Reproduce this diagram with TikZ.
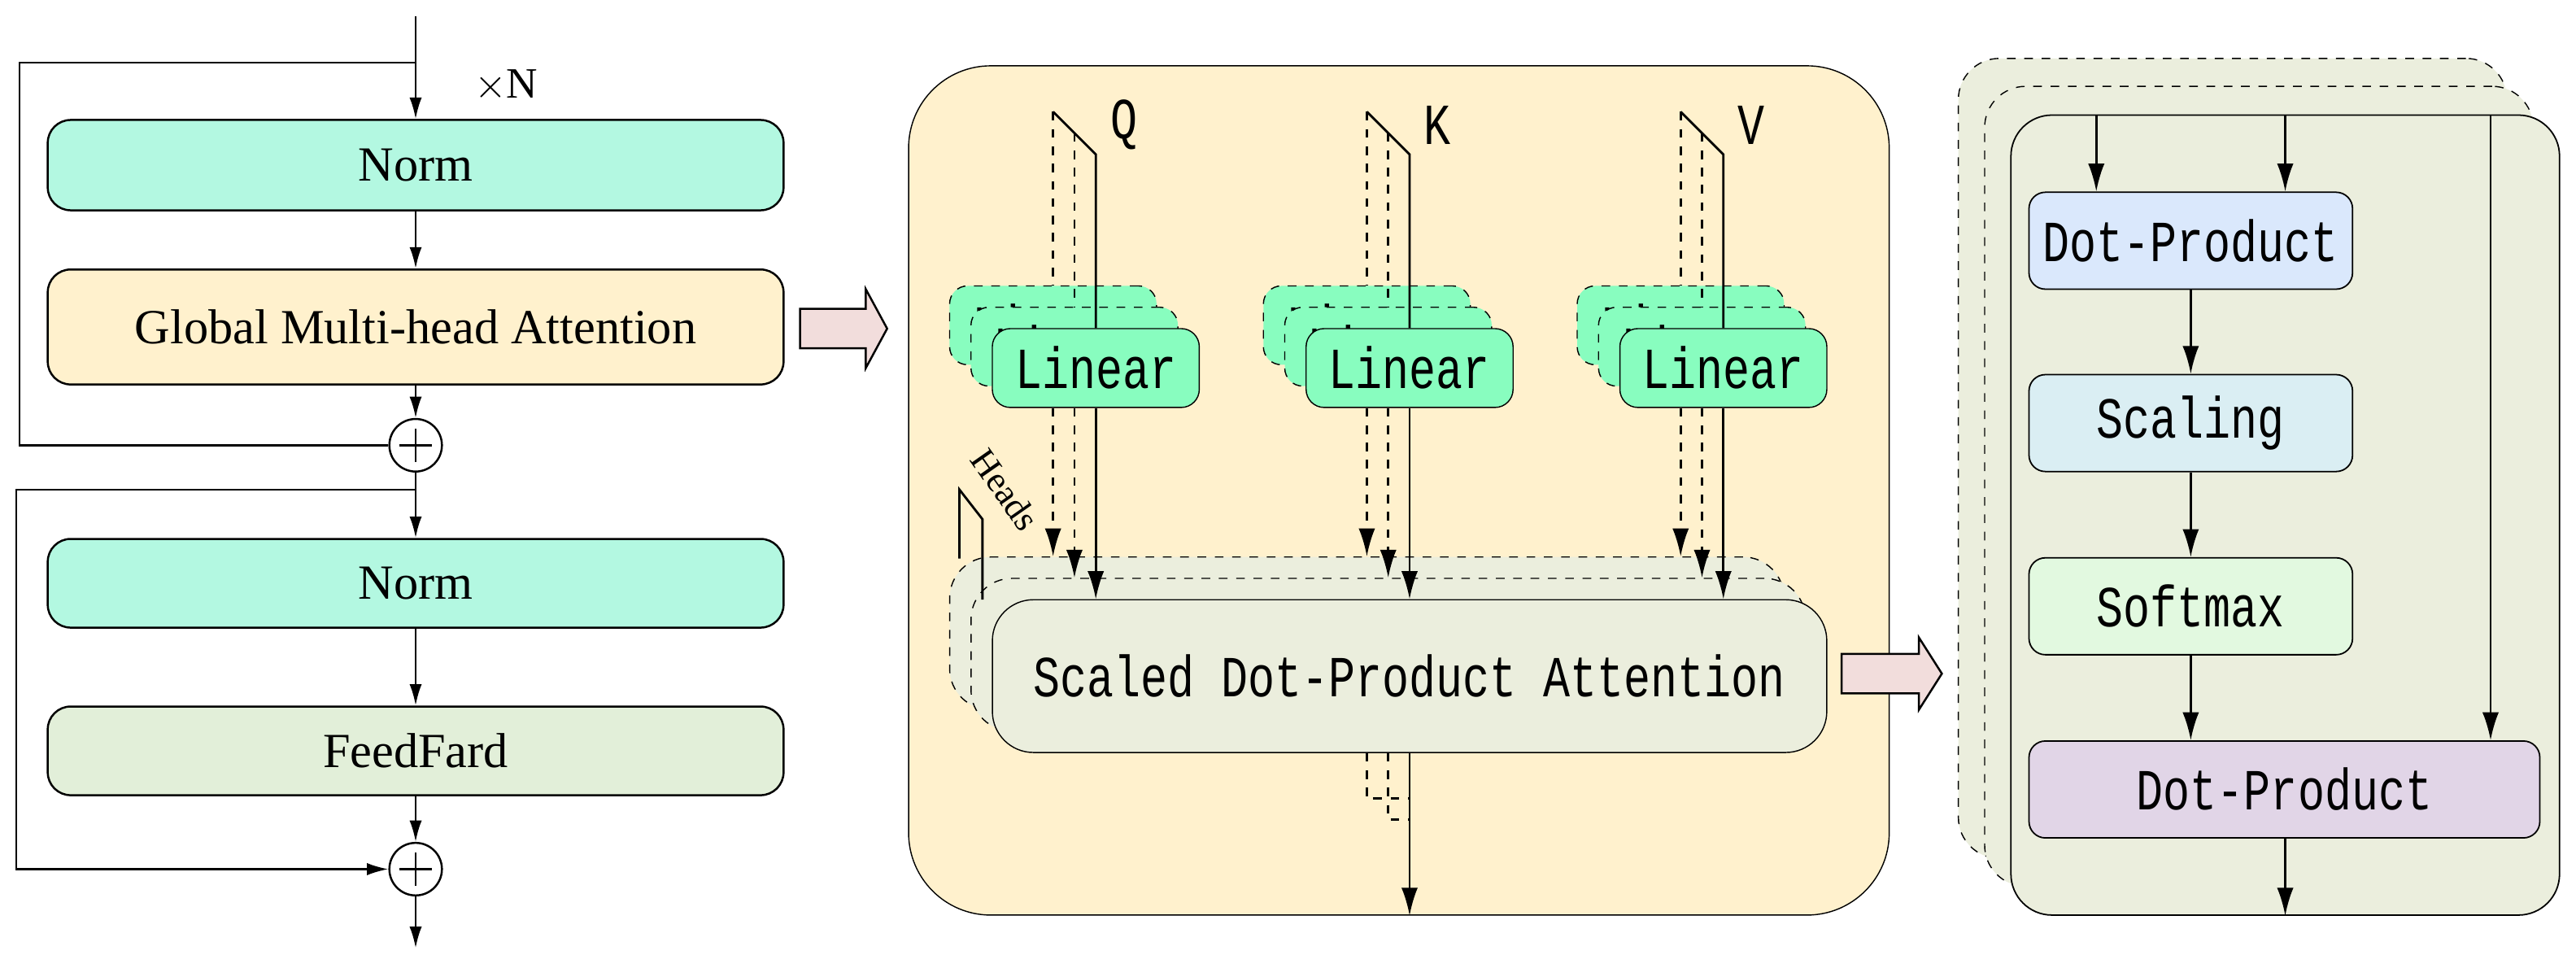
\documentclass[tikz,border=0pt]{standalone}
\usepackage{graphicx}
\usepackage{fontspec}
\setmainfont{Liberation Serif}
\newfontfamily\tallfont{Liberation Mono}
\usetikzlibrary{arrows.meta,positioning,calc}

\definecolor{normcol}{HTML}{B3F8E1}
\definecolor{attcol}{HTML}{FFF1CD}
\definecolor{ffcol}{HTML}{E2EFD9}
\definecolor{pinkcol}{HTML}{F2DDDC}
\definecolor{lincol}{HTML}{88FDBF}
\definecolor{sdpcol}{HTML}{EBEEDD}
\definecolor{dotcol}{HTML}{DAE8FC}
\definecolor{scalecol}{HTML}{DAEEF3}
\definecolor{softcol}{HTML}{E2F9E0}
\definecolor{outcol}{HTML}{E1D5E7}

\newcommand{\monotext}[1]{\scalebox{1}[1.3]{\tallfont #1}}

\begin{document}
\begin{tikzpicture}[
            x=0.02cm, y=-0.02cm,
            box/.style={rectangle, draw, line width=0.7pt, rounded corners=0.28cm, minimum width=8.96cm, minimum height=1.1cm, font=\fontsize{17}{20}\selectfont},
            plus/.style={circle, draw, line width=0.7pt, fill=white, minimum size=0.64cm, inner sep=0pt,
                path picture={\draw[line width=0.7pt] ([xshift=-0.2cm]path picture bounding box.center) -- ([xshift=0.2cm]path picture bounding box.center);
                              \draw[line width=0.7pt] ([yshift=-0.2cm]path picture bounding box.center) -- ([yshift=0.2cm]path picture bounding box.center);}},
            linbox/.style={rectangle, draw, fill=lincol, rounded corners=0.22cm, minimum width=2.52cm, minimum height=0.96cm, font=\fontsize{15.5}{18}\selectfont},
            sdpbox/.style={rectangle, draw, fill=sdpcol, rounded corners=0.5cm, minimum width=10.16cm, minimum height=1.86cm, font=\fontsize{15.5}{18}\selectfont},
            headbox/.style={rectangle, draw, fill=sdpcol, rounded corners=0.5cm, minimum width=6.68cm, minimum height=9.74cm},
            stepbox/.style={rectangle, draw, line width=0.5pt, rounded corners=0.2cm, minimum width=3.94cm, minimum height=1.18cm, font=\fontsize{15.5}{18}\selectfont},
            back/.style={dashed, line width=0.4pt},
            hollow/.style={draw, line width=0.7pt, fill=pinkcol},
            arr/.style={-{Latex[length=0.26cm, width=0.15cm]}, line width=0.7pt},
            bigarr/.style={-{Latex[length=0.34cm, width=0.2cm]}, line width=0.8pt}
        ]
            \useasboundingbox (0,0) rectangle (1568,589);

            % encoder layer
            \coordinate (in) at (253,10);
            \coordinate (skip1) at (253,38);
            \coordinate (skip2) at (253,298);
            \coordinate (out) at (253,577);
            \node[box, fill=normcol] (norm1) at (253,100.5) {Norm};
            \node[box, fill=attcol, minimum height=1.4cm] (gma) at (253,199) {Global Multi-head Attention};
            \node[plus] (add1) at (253,271) {};
            \node[box, fill=normcol, minimum height=1.08cm] (norm2) at (253,355) {Norm};
            \node[box, fill=ffcol, minimum height=1.08cm] (ff) at (253,457) {FeedFard};
            \node[plus] (add2) at (253,529) {};
            \node[font=\fontsize{15}{17}\selectfont] (times) at (308,52) {$\times$N};

            \draw[arr] (in) -- (norm1.north);
            \draw[line width=0.7pt] (skip1) -- ++(-241,0) |- (add1.west);
            \draw[arr] (norm1) -- (gma);
            \draw[arr] (gma) -- (add1);
            \draw[arr] (add1) -- (norm2);
            \draw[arr] (skip2) -- ++(-243,0) |- (add2.west);
            \draw[arr] (norm2) -- (ff);
            \draw[arr] (ff) -- (add2);
            \draw[arr] (add2) -- (out);

            \draw[hollow] (487,188) -- (527,188) -- (527,176) -- (540,200) -- (527,224) -- (527,212) -- (487,212) -- cycle;

            % multi-head attention
            \node[draw, fill=attcol, rounded corners=1cm, minimum width=11.94cm, minimum height=10.34cm] (mha) at (851.5,298.5) {};
            \node[sdpbox, back] (sdpa3) at (832,385.5) {};
            \node[sdpbox, back] (sdpa2) at (845,398.5) {};
            \node[sdpbox] (sdpa1) at (858,411.5) {\monotext{Scaled Dot-Product Attention}};

            \foreach \n/\lab [count=\i from 0] in {q/Q,k/K,v/V} {
                \pgfmathsetmacro{\xx}{641+191*\i}
                \node[linbox, back] (\n3) at (\xx,198) {\monotext{Linear}};
                \node[linbox, back] (\n2) at (\xx+13,211) {\monotext{Linear}};
                \node[linbox] (\n1) at (\xx+26,224) {\monotext{Linear}};
                \node[font=\fontsize{15.5}{18}\selectfont] (\n lab) at (\xx+43,76) {\monotext{\lab}};
                \coordinate (\n top) at (\xx,68);
                \coordinate (\n mid) at (\xx+13,81);
                \coordinate (\n bend) at (\xx+26,94);
                \draw[line width=0.8pt] (\n top) -- (\n bend) -- (\n1.north);
                \draw[dashed, line width=0.8pt] (\n top) -- (\n3.north);
                \draw[dashed, line width=0.8pt] (\n mid) -- (\n2.north);
                \draw[bigarr, dashed] (\n3 |- \n1.south) -- (\n3 |- sdpa3.north);
                \draw[bigarr, dashed] (\n2 |- \n1.south) -- (\n2 |- sdpa2.north);
                \draw[bigarr] (\n1.south) -- (\n1 |- sdpa1.north);
            }

            \draw[line width=0.8pt] (584,340) -- (584,298) -- (598,316) -- (598,365);
            \node[rotate=-55, font=\fontsize{12.5}{14}\selectfont] (heads) at (612,298) {Heads};

            \coordinate (merge3) at (832,486);
            \coordinate (merge2) at (845,499);
            \draw[dashed, line width=0.8pt] (sdpa1.south -| sdpa3) -- (merge3) -- (merge3 -| sdpa1);
            \draw[dashed, line width=0.8pt] (sdpa1.south -| sdpa2) -- (merge2) -- (merge2 -| sdpa1);
            \draw[bigarr] (sdpa1.south) -- (sdpa1 |- mha.south);

            \draw[hollow] (1121,398) -- (1168,398) -- (1168,388) -- (1182,410) -- (1168,432) -- (1168,422) -- (1121,422) -- cycle;

            % scaled dot-product attention
            \node[headbox, back] (head3) at (1359,279) {};
            \node[headbox, back] (head2) at (1375,296) {};
            \node[headbox, line width=0.5pt] (head1) at (1391,313.5) {};
            \node[stepbox, fill=dotcol] (dot1) at (1333.5,146.5) {\monotext{Dot-Product}};
            \node[stepbox, fill=scalecol] (scale) at (1333.5,257.5) {\monotext{Scaling}};
            \node[stepbox, fill=softcol] (soft) at (1333.5,369) {\monotext{Softmax}};
            \node[stepbox, fill=outcol, minimum width=6.22cm] (dot2) at (1390.5,480.5) {\monotext{Dot-Product}};

            \coordinate (qin) at (1276,70);
            \coordinate (kin) at (1391,70);
            \coordinate (vin) at (1516,70);
            \draw[bigarr] (qin) -- (qin |- dot1.north);
            \draw[bigarr] (kin) -- (kin |- dot1.north);
            \draw[bigarr] (vin) -- (vin |- dot2.north);
            \draw[bigarr] (dot1) -- (scale);
            \draw[bigarr] (scale) -- (soft);
            \draw[bigarr] (soft) -- (soft |- dot2.north);
            \draw[bigarr] (dot2.south -| kin) -- (kin |- head1.south);
        \end{tikzpicture}
\end{document}
